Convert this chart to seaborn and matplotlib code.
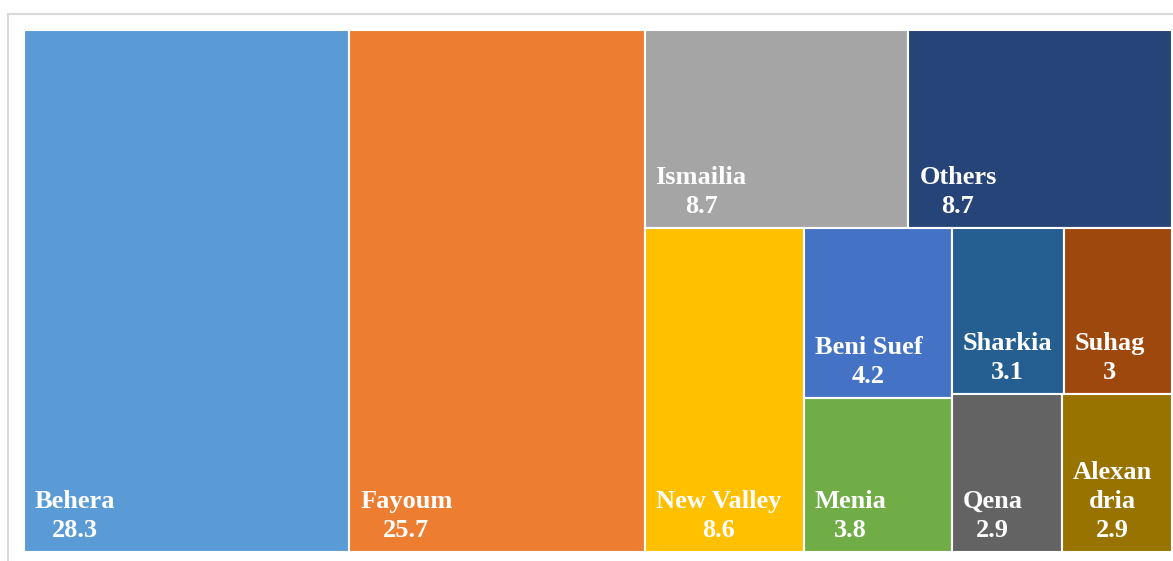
import matplotlib
matplotlib.use("Agg")
import matplotlib.pyplot as plt
import seaborn as sns
from matplotlib.patches import Rectangle

# share of each governorate (%)
names = ["Behera", "Fayoum", "Ismailia", "Others", "New Valley", "Beni Suef",
         "Menia", "Sharkia", "Suhag", "Qena", "Alexandria"]
labels = ["Behera", "Fayoum", "Ismailia", "Others", "New Valley", "Beni Suef",
          "Menia", "Sharkia", "Suhag", "Qena", "Alexan\ndria"]
values = [28.3, 25.7, 8.7, 8.7, 8.6, 4.2, 3.8, 3.1, 3.0, 2.9, 2.9]
colors = ["#5B9BD5", "#ED7D31", "#A5A5A5", "#264478", "#FFC000", "#4472C4",
          "#70AD47", "#255E91", "#9E480E", "#636363", "#997300"]

sns.set_style("white")
plt.rcParams["font.family"] = ["Liberation Serif", "DejaVu Serif"]

W, H = 1148, 522  # plot area in pixels


def worst(row, side):
    s = sum(row)
    return max(max(side * side * r / (s * s), s * s / (side * side * r)) for r in row)


def squarify(vals, x, y, w, h):
    total = sum(vals)
    areas = [v / total * w * h for v in vals]
    rects = []
    i = 0
    while i < len(areas):
        vertical = w > h * 1.05
        side = h if vertical else w
        row = [areas[i]]
        i += 1
        while i < len(areas) and worst(row + [areas[i]], side) <= worst(row, side):
            row.append(areas[i])
            i += 1
        thick = sum(row) / side
        pos = y if vertical else x
        for a in row:
            length = a / thick
            if vertical:
                rects.append((x, pos, thick, length))
            else:
                rects.append((pos, y, length, thick))
            pos += length
        if vertical:
            x += thick
            w -= thick
        else:
            y += thick
            h -= thick
    return rects


rects = squarify(values, 0, 0, W, H)

fig = plt.figure(figsize=(11.73, 5.61), dpi=100)
# chart frame
fig.patches.append(Rectangle((8 / 1173, -0.1), 1.2, 1.1 - 14 / 561,
                             transform=fig.transFigure, fill=False,
                             edgecolor="#D9D9D9", linewidth=1.5))
ax = fig.add_axes([24 / 1173, 9 / 561, W / 1173, H / 561])

ax.bar([r[0] for r in rects], [r[3] for r in rects], width=[r[2] for r in rects],
       bottom=[r[1] for r in rects], align="edge", color=colors,
       edgecolor="white", linewidth=1.5)

for (x, y, w, h), lab, v in zip(rects, labels, values):
    ax.text(x + 11, y + h - 10, f"{lab}\n{v:g}", ha="left", va="bottom",
            multialignment="center", color="white", fontsize=19,
            fontweight="bold", linespacing=1.32)

ax.set_xlim(0, W)
ax.set_ylim(H, 0)
ax.axis("off")

fig.savefig("out.png", dpi=100)
